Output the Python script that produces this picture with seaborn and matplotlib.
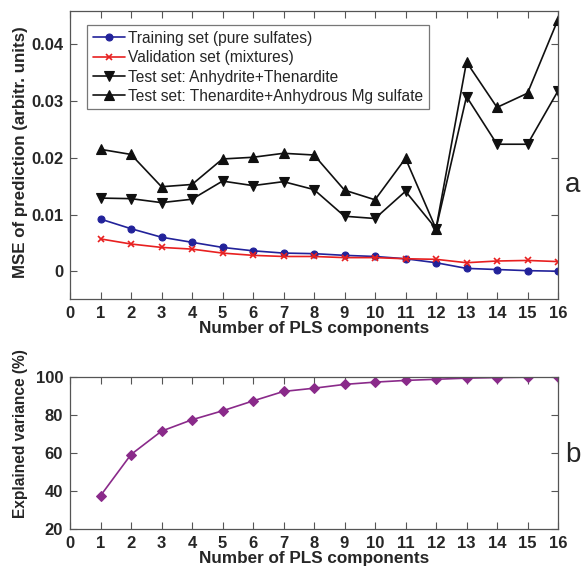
import numpy as np
import pandas as pd
import matplotlib
matplotlib.use("Agg")
import matplotlib.pyplot as plt
import seaborn as sns

components = list(range(1, 17))
training = [0.0092, 0.0075, 0.0060, 0.0051, 0.0042, 0.0036, 0.0032, 0.0031,
            0.0028, 0.0026, 0.0022, 0.0015, 0.0005, 0.0003, 0.0001, 0.0000]
validation = [0.0057, 0.0048, 0.0042, 0.0039, 0.0032, 0.0028, 0.0026, 0.0026,
              0.0024, 0.0024, 0.0022, 0.0021, 0.0015, 0.0018, 0.0019, 0.0017]
test_anh_then = [0.0129, 0.0128, 0.0121, 0.0127, 0.0159, 0.0151, 0.0158, 0.0144,
                 0.0097, 0.0093, 0.0141, 0.0075, 0.0308, 0.0224, 0.0224, 0.0318]
test_then_mg = [0.0215, 0.0206, 0.0149, 0.0153, 0.0198, 0.0201, 0.0208, 0.0205,
                0.0143, 0.0126, 0.0199, 0.0075, 0.0369, 0.0289, 0.0314, 0.0444]
explained = [37.5, 59.2, 71.5, 77.5, 82.2, 87.4, 92.4, 94.1,
             96.1, 97.3, 98.2, 98.8, 99.4, 99.7, 99.9, 100.0]

series_names = ["Training set (pure sulfates)", "Validation set (mixtures)",
                "Test set: Anhydrite+Thenardite",
                "Test set: Thenardite+Anhydrous Mg sulfate"]
x_ticks = list(range(0, 17))
y_ticks_a = [0, 0.01, 0.02, 0.03, 0.04]
y_tick_labels_a = ["0", "0.01", "0.02", "0.03", "0.04"]
y_ticks_b = [20, 40, 60, 80, 100]

sns.set_style("ticks")
plt.rcParams["font.family"] = ["Liberation Sans", "DejaVu Sans"]

fig = plt.figure(figsize=(5.83, 5.71), dpi=100)
W, H = 583, 571
ax_a = fig.add_axes([70 / W, 1 - 299 / H, 488 / W, 288 / H])
ax_b = fig.add_axes([70 / W, 1 - 529 / H, 488 / W, 152 / H])

df = pd.DataFrame({"x": components, "train": training, "val": validation,
                   "t1": test_anh_then, "t2": test_then_mg, "ev": explained})

styles = [
    ("train", "#22229a", "o", 5),
    ("val", "#e82020", "x", 5),
    ("t1", "#101010", "v", 7),
    ("t2", "#101010", "^", 7),
]
for (col, color, mk, ms), name in zip(styles, series_names):
    sns.lineplot(data=df, x="x", y=col, ax=ax_a, color=color, marker=mk,
                 markersize=ms, markeredgecolor=color,
                 markeredgewidth=1.2 if mk == "x" else 0.8,
                 linewidth=1.2, label=name)

sns.lineplot(data=df, x="x", y="ev", ax=ax_b, color="#8a2a8a", marker="D",
             markersize=5, markeredgecolor="#8a2a8a", linewidth=1.2, legend=False)

for ax in (ax_a, ax_b):
    ax.set_xlim(0, 16)
    ax.set_xticks(x_ticks)
    ax.set_xticklabels([str(t) for t in x_ticks], fontweight="bold", fontsize=12)
    ax.tick_params(direction="in", top=True, right=True, length=5, width=0.8,
                   color="#555555", pad=5)
    for s in ax.spines.values():
        s.set_color("#555555")
        s.set_linewidth(0.9)
    ax.set_xlabel("Number of PLS components", fontweight="bold", fontsize=12.3, labelpad=0)

ax_a.set_ylim(-0.0049, 0.0459)
ax_a.set_yticks(y_ticks_a)
ax_a.set_yticklabels(y_tick_labels_a, fontweight="bold", fontsize=12)
ax_a.set_ylabel("MSE of prediction (arbitr. units)", fontweight="bold", fontsize=12.2)
ax_a.yaxis.set_label_coords(-0.087, 0.51)

ax_b.set_ylim(20, 100)
ax_b.set_yticks(y_ticks_b)
ax_b.set_yticklabels([str(t) for t in y_ticks_b], fontweight="bold", fontsize=12)
ax_b.set_ylabel("Explained variance (%)", fontweight="bold", fontsize=11.2)
ax_b.yaxis.set_label_coords(-0.087, 0.63)

leg = ax_a.legend(loc="upper left", bbox_to_anchor=(0.035, 0.95), fontsize=11.2,
                  frameon=True, fancybox=False, edgecolor="#555555",
                  handlelength=2.1, handletextpad=0.2, borderpad=0.35,
                  labelspacing=0.28, borderaxespad=0)
leg.get_frame().set_linewidth(0.9)

fig.text(565 / W, 1 - 185 / H, "a", fontsize=20, va="center", ha="left")
fig.text(565 / W, 1 - 455 / H, "b", fontsize=20, va="center", ha="left")

fig.savefig("out.png", dpi=100, facecolor="white")
